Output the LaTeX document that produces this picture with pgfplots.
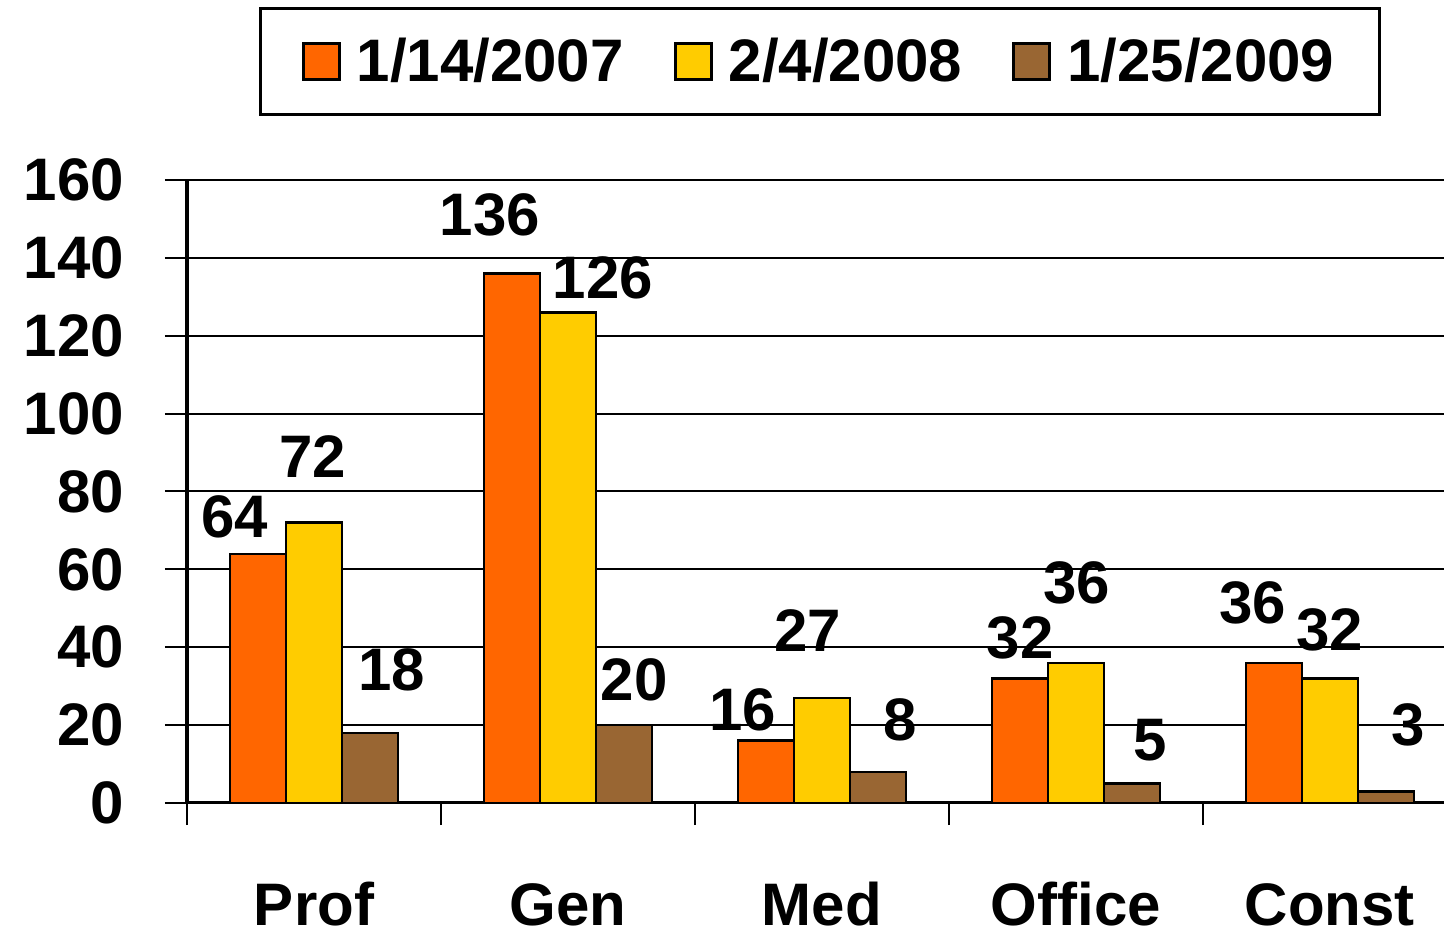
\documentclass[border=0pt]{standalone}
\usepackage{fontspec}
\setmainfont{Liberation Sans}
\usepackage{pgfplots}
\pgfplotsset{compat=1.18}
\definecolor{cOrange}{HTML}{FF6600}
\definecolor{cYellow}{HTML}{FFCC00}
\definecolor{cBrown}{HTML}{996633}
\newcommand{\bigf}{\fontsize{30}{36}\selectfont\bfseries}
\begin{document}
\begin{tikzpicture}
\begin{axis}[
  scale only axis,
  width=628.5pt, height=311.5pt,
  xmin=-0.5, xmax=4.449,
  ymin=0, ymax=160,
  ytick={0,20,...,160},
  xtick={-0.5,0.5,1.5,2.5,3.5},
  xticklabels={},
  axis x line*=bottom, axis y line*=left,
  axis line style={-},
  x axis line style={line width=1.5pt},
  y axis line style={line width=2pt},
  tick align=outside,
  major tick length=11pt,
  every tick/.style={black, line width=1pt},
  ymajorgrids,
  grid style={black, line width=1pt},
  /pgf/number format/assume math mode=true,
  yticklabel style={font=\bigf, xshift=-17pt},
  clip=false,
  ybar, bar width=28pt,
  every axis plot/.append style={draw=black, line width=1.2pt},
  legend columns=3,
  legend style={at={(0.5036,1)}, anchor=south, yshift=32pt,
    draw=black, line width=1.5pt, inner xsep=20.5pt, inner ysep=13pt,
    font=\bigf,
    /tikz/every odd column/.append style={column sep=6pt},
    /tikz/every even column/.append style={column sep=23pt}},
  legend image code/.code={\draw[#1, line width=1.5pt, bar shift=0pt] (0pt,-9pt) rectangle (18pt,9pt);},
]
\addplot[fill=cOrange, bar shift=-28pt] coordinates {(0,64) (1,136) (2,16) (3,32) (4,36)};
\addplot[fill=cYellow, bar shift=0pt] coordinates {(0,72) (1,126) (2,27) (3,36) (4,32)};
\addplot[fill=cBrown, bar shift=28pt] coordinates {(0,18) (1,20) (2,8) (3,5) (4,3)};
\legend{1/14/2007, 2/4/2008, 1/25/2009}
% data labels
\node[font=\bigf] at (axis cs:-0.311,73.45) {64};
\node[font=\bigf] at (axis cs:-0.004,88.86) {72};
\node[font=\bigf] at (axis cs:0.307,34.16) {18};
\node[font=\bigf] at (axis cs:0.693,151.0) {136};
\node[font=\bigf] at (axis cs:1.138,134.8) {126};
\node[font=\bigf] at (axis cs:1.260,31.6) {20};
\node[font=\bigf] at (axis cs:1.689,23.9) {16};
\node[font=\bigf] at (axis cs:1.945,44.4) {27};
\node[font=\bigf] at (axis cs:2.307,21.3) {8};
\node[font=\bigf] at (axis cs:2.780,42.4) {32};
\node[font=\bigf] at (axis cs:3.004,56.5) {36};
\node[font=\bigf] at (axis cs:3.291,16.2) {5};
\node[font=\bigf] at (axis cs:3.697,51.4) {36};
\node[font=\bigf] at (axis cs:4.000,44.4) {32};
\node[font=\bigf] at (axis cs:4.307,20.0) {3};
% category labels
\node[font=\bigf, anchor=base, inner sep=1pt, yshift=-61pt] at (axis cs:0,0) {Prof};
\node[font=\bigf, anchor=base, inner sep=1pt, yshift=-61pt] at (axis cs:1,0) {Gen};
\node[font=\bigf, anchor=base, inner sep=1pt, yshift=-61pt] at (axis cs:2,0) {Med};
\node[font=\bigf, anchor=base, inner sep=1pt, yshift=-61pt] at (axis cs:3,0) {Office};
\node[font=\bigf, anchor=base, inner sep=1pt, yshift=-61pt] at (axis cs:4,0) {Const};
\end{axis}
\pgfresetboundingbox
\path ([shift={(-93.5pt,-65pt)}]current axis.south west) rectangle ([shift={(0pt,90pt)}]current axis.north east);
\end{tikzpicture}
\end{document}
